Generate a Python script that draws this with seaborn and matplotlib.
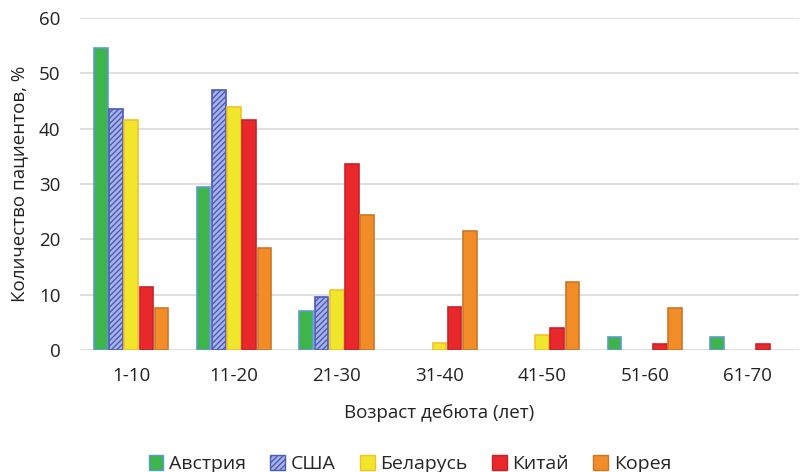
import pandas as pd
import matplotlib
matplotlib.use("Agg")
import matplotlib.pyplot as plt
from matplotlib.patches import Patch
import seaborn as sns

# Данные
age_groups = ['1-10', '11-20', '21-30', '31-40', '41-50', '51-60', '61-70']
countries = ['Австрия', 'США', 'Беларусь', 'Китай', 'Корея']
austria = [54.5, 29.5, 7.0, 0, 0, 2.4, 2.4]
usa = [43.5, 47.0, 9.6, 0, 0, 0, 0]
belarus = [41.5, 44.0, 10.8, 1.3, 2.8, 0, 0]
china = [11.5, 41.5, 33.7, 7.8, 4.0, 1.1, 1.1]
korea = [7.7, 18.5, 24.5, 21.6, 12.3, 7.7, 0]

series = [austria, usa, belarus, china, korea]
rows = []
for c, vals in zip(countries, series):
    for a, v in zip(age_groups, vals):
        rows.append({'age': a, 'country': c, 'value': v})
df = pd.DataFrame(rows)

face = {'Австрия': '#3DB54A', 'США': '#A8B4E6', 'Беларусь': '#F0E62C',
        'Китай': '#E8282B', 'Корея': '#F28C26'}
edge = {'Австрия': '#5B9BD5', 'США': '#4B5BB8', 'Беларусь': '#F5C02A',
        'Китай': '#C9222A', 'Корея': '#C8782A'}
hatch = {'США': '//////'}

sns.set_style("white")
plt.rcParams['font.family'] = ['Open Sans', 'DejaVu Sans']
plt.rcParams['hatch.linewidth'] = 1.0

fig = plt.figure(figsize=(8.07, 4.72), dpi=100)
ax = fig.add_axes([0.099, 0.258, 0.891, 0.704])

sns.barplot(data=df, x='age', y='value', hue='country', hue_order=countries,
            order=age_groups, palette=face, saturation=1, width=0.74, gap=0.1,
            errorbar=None, legend=False, ax=ax, zorder=3)

# обводка, штриховка для США, нулевые столбцы не рисуем
for c, cont in zip(countries, ax.containers):
    for p in cont.patches:
        p.set_edgecolor(edge[c])
        p.set_linewidth(1.2)
        if c in hatch:
            p.set_hatch(hatch[c])
        if p.get_height() == 0:
            p.set_visible(False)

ax.set_ylim(0, 60)
ax.set_yticks(range(0, 61, 10))
ax.yaxis.grid(True, color='#D9D9D9', linewidth=1.2, zorder=0)
ax.set_axisbelow(True)
for s in ax.spines.values():
    s.set_visible(False)
ax.tick_params(axis='both', length=0, labelsize=13.5, colors='#222222')
ax.tick_params(axis='x', pad=12)
ax.tick_params(axis='y', pad=14)
ax.set_xlim(-0.5, len(age_groups) - 0.5)

ax.set_xlabel('Возраст дебюта (лет)', fontsize=13.5, color='#222222', labelpad=14)
ax.set_ylabel('Количество пациентов, %', fontsize=13.5, color='#222222', labelpad=8)

handles = [Patch(facecolor=face[c], edgecolor=edge[c], hatch=hatch.get(c), label=c)
           for c in countries]
fig.legend(handles=handles, loc='lower center', ncol=5, frameon=False,
           bbox_to_anchor=(0.508, -0.04), fontsize=14, handlelength=0.75,
           handleheight=0.75, handletextpad=0.3, columnspacing=1.25)

fig.savefig('out.png', dpi=100)
